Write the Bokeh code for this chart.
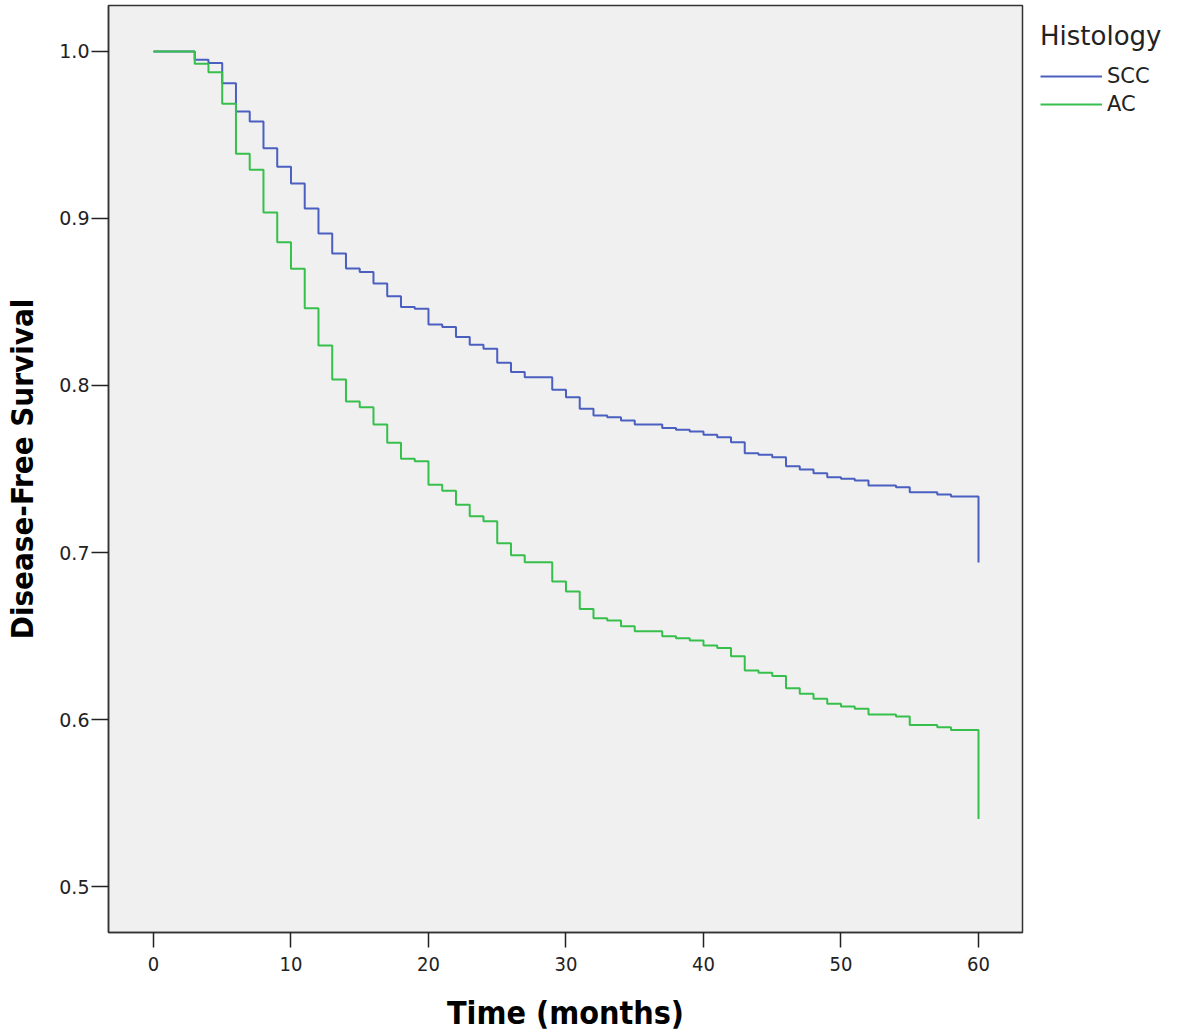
from bokeh.plotting import figure
from bokeh.models import Legend, LegendItem, FixedTicker, PrintfTickFormatter, Range1d
from bokeh.embed import file_html
from bokeh.resources import INLINE

months = list(range(0, 61))

scc = [1.0, 1.0, 1.0, 0.995, 0.993, 0.981, 0.964, 0.958, 0.942, 0.931,
       0.921, 0.906, 0.891, 0.879, 0.870, 0.868, 0.861, 0.8535, 0.847, 0.846,
       0.8365, 0.835, 0.829, 0.8244, 0.822, 0.8136, 0.808, 0.805, 0.805, 0.7974,
       0.793, 0.786, 0.782, 0.781, 0.779, 0.7766, 0.7766, 0.7745, 0.7735, 0.7725,
       0.7705, 0.769, 0.766, 0.7595, 0.7585, 0.757, 0.7517, 0.7497, 0.7475, 0.7451,
       0.7441, 0.7431, 0.7401, 0.7401, 0.7391, 0.7361, 0.7361, 0.7347, 0.7335, 0.7335,
       0.694]

ac = [1.0, 1.0, 1.0, 0.9926, 0.9876, 0.9687, 0.9387, 0.9291, 0.9036, 0.8858,
      0.8699, 0.8463, 0.824, 0.8036, 0.7904, 0.787, 0.7766, 0.7657, 0.7561, 0.7547,
      0.7405, 0.737, 0.7286, 0.7217, 0.7187, 0.7056, 0.6983, 0.6942, 0.6942, 0.6826,
      0.6767, 0.6662, 0.6607, 0.6593, 0.6559, 0.6529, 0.6529, 0.6499, 0.6487, 0.6473,
      0.6443, 0.6429, 0.6379, 0.6293, 0.628, 0.626, 0.6188, 0.6154, 0.6124, 0.6094,
      0.6078, 0.6064, 0.603, 0.603, 0.6018, 0.5968, 0.5968, 0.5954, 0.5938, 0.5938,
      0.5405]

x_ticks = [0, 10, 20, 30, 40, 50, 60]
y_ticks = [0.5, 0.6, 0.7, 0.8, 0.9, 1.0]

p = figure(frame_width=914, frame_height=927, output_backend="svg", toolbar_location=None,
           x_range=Range1d(-3.27, 63.2), y_range=Range1d(0.4725, 1.0275),
           min_border_left=108, min_border_top=5, min_border_bottom=0, min_border_right=150)

p.background_fill_color = "#f0f0f0"
p.border_fill_color = "white"
p.outline_line_color = "#333333"
p.outline_line_width = 1.5
p.grid.visible = False

r1 = p.step(months, scc, mode="after", line_color="#4a5fbf", line_width=2)
r2 = p.step(months, ac, mode="after", line_color="#37bf4c", line_width=2)

for ax in (p.xaxis[0], p.yaxis[0]):
    ax.axis_line_color = "#333333"
    ax.axis_line_width = 1.5
    ax.major_tick_line_color = "#222222"
    ax.major_tick_line_width = 1.5
    ax.major_tick_in = 0
    ax.minor_tick_line_color = None
    ax.major_label_text_color = "#222222"
    ax.axis_label_text_font_style = "bold"
    ax.axis_label_text_color = "black"

p.xaxis.major_tick_out = 15
p.yaxis.major_tick_out = 17

p.xaxis.ticker = FixedTicker(ticks=x_ticks)
p.yaxis.ticker = FixedTicker(ticks=y_ticks)
p.yaxis.formatter = PrintfTickFormatter(format="%.1f")

p.xaxis.major_label_text_font = "DejaVu Sans Condensed"
p.xaxis.major_label_text_font_size = "20px"
p.yaxis.major_label_text_font = "DejaVu Sans"
p.yaxis.major_label_text_font_size = "19px"
p.xaxis.major_label_standoff = 9
p.yaxis.major_label_standoff = 2

p.xaxis.axis_label = "Time (months)"
p.yaxis.axis_label = "Disease-Free Survival"
p.xaxis.axis_label_text_font = "DejaVu Sans Condensed"
p.yaxis.axis_label_text_font = "DejaVu Sans Condensed"
p.xaxis.axis_label_text_font_size = "32px"
p.yaxis.axis_label_text_font_size = "31px"
p.xaxis.axis_label_standoff = 20
p.yaxis.axis_label_standoff = 16

legend = Legend(items=[LegendItem(label="SCC", renderers=[r1]),
                       LegendItem(label="AC", renderers=[r2])],
                location=(18, 814))
legend.title = "Histology"
legend.title_text_font = "DejaVu Sans"
legend.title_text_font_size = "26px"
legend.title_text_font_style = "normal"
legend.title_text_color = "#222222"
legend.title_standoff = 11
legend.label_text_font = "DejaVu Sans"
legend.label_text_font_size = "21px"
legend.label_text_color = "#222222"
legend.border_line_color = None
legend.background_fill_color = None
legend.glyph_width = 62
legend.glyph_height = 28
legend.label_height = 28
legend.label_standoff = 5
legend.spacing = 0
legend.padding = 0
legend.margin = 0
p.add_layout(legend, "right")

open("out.html", "w").write(file_html(p, INLINE))
